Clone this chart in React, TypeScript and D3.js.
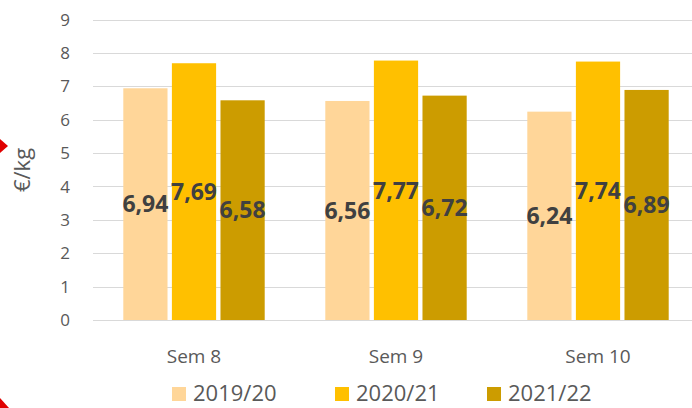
import React, { useRef, useEffect } from "react";
import * as d3 from "d3";

const categories: string[] = ["Sem 8", "Sem 9", "Sem 10"];
const seriesNames: string[] = ["2019/20", "2020/21", "2021/22"];
const values1920: number[] = [6.94, 6.56, 6.24];
const values2021: number[] = [7.69, 7.77, 7.74];
const values2122: number[] = [6.58, 6.72, 6.89];
const yTicks: number[] = [0, 1, 2, 3, 4, 5, 6, 7, 8, 9];
const colors: string[] = ["#FFD699", "#FFC000", "#CC9C00"];

interface ICell {
  cat: string;
  series: string;
  value: number;
  color: string;
}

const App: React.FC = () => {
  const ref = useRef<SVGSVGElement>(null);
  const width = 692;
  const height = 408;

  useEffect(() => {
    const svg = d3.select(ref.current);
    svg.selectAll("*").remove();
    svg.attr("width", width).attr("height", height);

    const allSeries = [values1920, values2021, values2122];
    const cells: ICell[] = [];
    categories.forEach((c, i) => {
      seriesNames.forEach((s, j) => {
        cells.push({ cat: c, series: s, value: allSeries[j][i], color: colors[j] });
      });
    });

    const yScale = d3.scaleLinear().domain([0, 9]).range([320, 19.5]);
    const x0 = d3
      .scaleBand<string>()
      .domain(categories)
      .range([93, 699])
      .paddingInner(0.3)
      .paddingOuter(0.15);
    const x1 = d3
      .scaleBand<string>()
      .domain(seriesNames)
      .range([0, x0.bandwidth()])
      .paddingInner(0.09);

    // gridlines
    svg
      .append("g")
      .selectAll("line")
      .data(yTicks)
      .enter()
      .append("line")
      .attr("x1", 93)
      .attr("x2", width)
      .attr("y1", (d) => Math.round(yScale(d)) + 0.5)
      .attr("y2", (d) => Math.round(yScale(d)) + 0.5)
      .attr("stroke", "#D9D9D9")
      .attr("stroke-width", 1.2);

    // y tick labels
    svg
      .append("g")
      .selectAll("text")
      .data(yTicks)
      .enter()
      .append("text")
      .attr("x", 70)
      .attr("y", (d) => yScale(d))
      .attr("dy", "0.36em")
      .attr("text-anchor", "end")
      .attr("font-family", "Open Sans")
      .attr("font-size", 17)
      .attr("fill", "#595959")
      .text((d) => d);

    // y axis title
    svg
      .append("text")
      .attr("transform", "translate(30,170) rotate(-90)")
      .attr("text-anchor", "middle")
      .attr("font-family", "Open Sans")
      .attr("font-size", 22)
      .attr("fill", "#595959")
      .text("€/kg");

    // bars
    svg
      .append("g")
      .selectAll("rect")
      .data(cells)
      .enter()
      .append("rect")
      .attr("x", (d) => (x0(d.cat) || 0) + (x1(d.series) || 0))
      .attr("y", (d) => yScale(d.value))
      .attr("width", x1.bandwidth())
      .attr("height", (d) => yScale(0) - yScale(d.value))
      .attr("fill", (d) => d.color);

    // data labels (centered in bar)
    svg
      .append("g")
      .selectAll("text")
      .data(cells)
      .enter()
      .append("text")
      .attr("x", (d) => (x0(d.cat) || 0) + (x1(d.series) || 0) + x1.bandwidth() / 2)
      .attr("y", (d) => (yScale(d.value) + yScale(0)) / 2)
      .attr("dy", "0.36em")
      .attr("text-anchor", "middle")
      .attr("font-family", "Open Sans")
      .attr("font-weight", "bold")
      .attr("font-size", 23)
      .attr("fill", "#404040")
      .text((d) => d3.format(".2f")(d.value).replace(".", ","));

    // x labels
    svg
      .append("g")
      .selectAll("text")
      .data(categories)
      .enter()
      .append("text")
      .attr("x", (d) => (x0(d) || 0) + x0.bandwidth() / 2)
      .attr("y", 356)
      .attr("dy", "0.36em")
      .attr("text-anchor", "middle")
      .attr("font-family", "Open Sans")
      .attr("font-size", 19)
      .attr("fill", "#595959")
      .text((d) => d);

    // legend
    const legendX = [172, 335, 487];
    const legend = svg
      .append("g")
      .selectAll("g")
      .data(seriesNames)
      .enter()
      .append("g")
      .attr("transform", (d, i) => `translate(${legendX[i]}, 393)`);
    legend
      .append("rect")
      .attr("x", 0)
      .attr("y", -6)
      .attr("width", 14)
      .attr("height", 14)
      .attr("fill", (d, i) => colors[i]);
    legend
      .append("text")
      .attr("x", 21)
      .attr("y", 0)
      .attr("dy", "0.36em")
      .attr("font-family", "Open Sans")
      .attr("font-size", 22)
      .attr("fill", "#595959")
      .text((d) => d);

    // red annotation marks at the left edge
    svg
      .append("path")
      .attr("d", "M0,139 L8,146 L0,153 Z")
      .attr("fill", "#E00000");
    svg
      .append("path")
      .attr("d", "M0,398 L9,408 L0,408 Z")
      .attr("fill", "#E00000");
  });

  return (
    <svg
      ref={ref}
      style={{ position: "absolute", left: 0, top: 0, background: "#fff" }}
    ></svg>
  );
};

export default App;
